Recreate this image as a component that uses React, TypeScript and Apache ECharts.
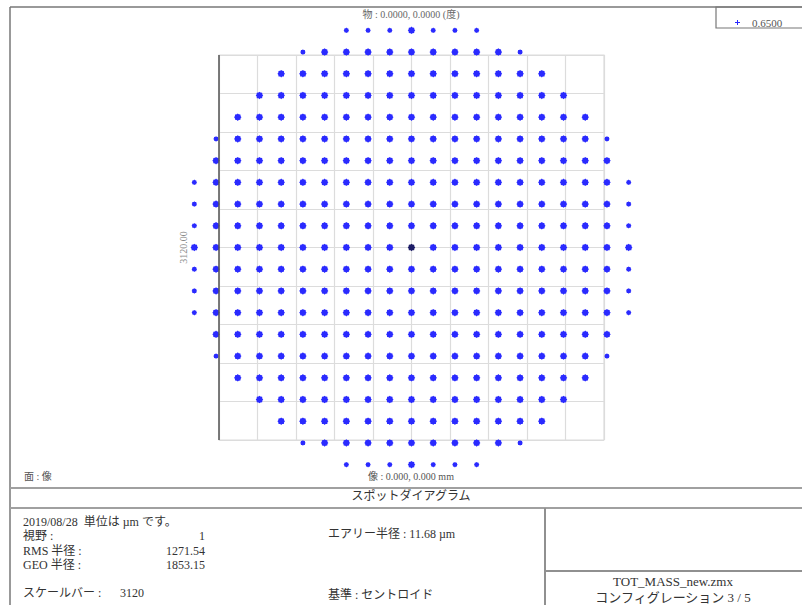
import React, { useEffect, useRef } from "react";
import * as echarts from "echarts";

// Spot diagram: ray grid at the image plane for a single field / single wavelength.
const WAVELENGTH = "0.6500";
const SPOT_PITCH_UM = 176; // spacing between neighbouring ray spots (µm)
// Pupil rows from top (+10) to bottom (-10) and how many spots each side of centre.
const PUPIL_ROWS = [10, 9, 8, 7, 6, 5, 4, 3, 2, 1, 0, -1, -2, -3, -4, -5, -6, -7, -8, -9, -10];
const ROW_HALF_WIDTHS = [3, 5, 6, 7, 8, 9, 9, 10, 10, 10, 10, 10, 10, 10, 9, 9, 8, 7, 6, 5, 3];

// Scale box (µm)
const SCALE_BAR_UM = 3120;
const GRID_DIVISIONS = 10;

// Report block
const DATE_LINE = "2019/08/28  単位は µm です。";
const STAT_LABELS = ["視野 :", "RMS 半径 :", "GEO 半径 :"];
const STAT_VALUES = ["1", "1271.54", "1853.15"];
const AIRY_LINE = "エアリー半径 : 11.68 µm";
const REFERENCE_LINE = "基準 : セントロイド";
const FILE_NAME = "TOT_MASS_new.zmx";
const CONFIG_LINE = "コンフィグレーション 3 / 5";
const TITLE = "スポットダイアグラム";
const OBJECT_LINE = "物 : 0.0000, 0.0000 (度)";
const IMAGE_LINE = "像 : 0.000, 0.000 mm";
const SURFACE_LINE = "面 : 像";

const FONT = "'Liberation Serif', 'Noto Sans CJK JP', serif";
const SPOT_COLOR = "#2a2aff";
const CENTER_COLOR = "#1c1c66";

// Ragged ray blob used for each spot
const SPOT_PATH =
  "path://M20,10 L17.8,12.4 L17.07,17.07 L12.6,17.6 L10,20 L7.4,17.6 L2.93,17.07 L2.2,12.4 L0,10 L2.2,7.6 L2.93,2.93 L7.4,2.2 L10,0 L12.6,2.2 L17.07,2.93 L17.8,7.6 Z";
const PLUS_PATH =
  "path://M4,0 L6,0 L6,4 L10,4 L10,6 L6,6 L6,10 L4,10 L4,6 L0,6 L0,4 L4,4 Z";

function buildSpots() {
  const pts: any[] = [];
  PUPIL_ROWS.forEach((j, r) => {
    const h = ROW_HALF_WIDTHS[r];
    for (let i = -h; i <= h; i++) {
      const rr = i * i + j * j;
      const item: any = {
        value: [i * SPOT_PITCH_UM, j * SPOT_PITCH_UM],
        symbolSize: rr > 100 ? 5.5 : 7.5,
      };
      if (i === 0 && j === 0) item.itemStyle = { color: CENTER_COLOR, opacity: 1 };
      pts.push(item);
    }
  });
  return pts;
}

function text(x: number, y: number, t: string, opts: any = {}) {
  return {
    type: "text",
    x,
    y,
    silent: true,
    style: {
      text: t,
      fill: opts.fill || "#333",
      fontSize: opts.size || 12,
      fontFamily: FONT,
      align: opts.align || "left",
      verticalAlign: "middle",
    },
  };
}

function line(x1: number, y1: number, x2: number, y2: number, stroke = "#8a8a8a", w = 1.5) {
  return {
    type: "line",
    silent: true,
    shape: { x1, y1, x2, y2 },
    style: { stroke, lineWidth: w },
  };
}

export default function App() {
  const ref = useRef<HTMLDivElement>(null);

  useEffect(() => {
    document.body.style.margin = "0";
    if (!ref.current) return;
    const chart = echarts.init(ref.current, null, { renderer: "svg" });
    const half = SCALE_BAR_UM / 2;
    const step = SCALE_BAR_UM / GRID_DIVISIONS;
    const cap = 32;

    const axisCommon = {
      type: "value",
      min: -half,
      max: half,
      interval: step,
      axisLine: { show: false },
      axisTick: { show: false },
      axisLabel: { show: false },
      splitLine: { show: true, lineStyle: { color: "#dcdcdc", width: 1.2 } },
    };

    const graphic: any[] = [
      // page frame
      line(10, 7, 802, 7, "#777", 1.5),
      line(10, 7, 10, 605, "#777", 1.5),
      // legend box
      { type: "rect", silent: true, shape: { x: 716, y: 7, width: 100, height: 21 }, style: { fill: "none", stroke: "#777", lineWidth: 1.2 } },
      // separators
      line(10, 488, 802, 488, "#a0a0a0", 2),
      line(10, 508, 802, 508, "#a0a0a0", 2),
      line(545, 508, 545, 605, "#909090", 2),
      line(545, 571, 802, 571, "#909090", 2),
      text(411, 14, OBJECT_LINE, { align: "center", size: 10, fill: "#666" }),
      text(24, 476, SURFACE_LINE, { size: 10, fill: "#555" }),
      text(411, 476, IMAGE_LINE, { align: "center", size: 10, fill: "#555" }),
      text(411, 496, TITLE, { align: "center", size: 12 }),
      text(23, 522, DATE_LINE),
      text(23, 593, "スケールバー :"),
      text(120, 593, String(SCALE_BAR_UM)),
      text(328, 534, AIRY_LINE),
      text(328, 595, REFERENCE_LINE),
      text(673, 581, FILE_NAME, { align: "center", size: 13 }),
      text(673, 597, CONFIG_LINE, { align: "center", size: 13 }),
    ];
    STAT_LABELS.forEach((lab, k) => {
      const y = 536 + k * 14.5;
      graphic.push(text(23, y, lab));
      graphic.push(text(205, y, STAT_VALUES[k], { align: "right" }));
    });

    chart.setOption({
      animation: false,
      backgroundColor: "#fff",
      grid: {
        left: 219,
        top: 55,
        width: 385,
        height: 385,
        show: true,
        borderColor: "#dcdcdc",
        borderWidth: 1.2,
      },
      legend: {
        left: 730,
        top: 12,
        itemWidth: 5,
        itemHeight: 5,
        data: [{ name: WAVELENGTH, icon: PLUS_PATH }],
        textStyle: { fontSize: 11, color: "#555", fontFamily: FONT, padding: [0, 0, 0, 7] },
        selectedMode: false,
      },
      xAxis: axisCommon,
      yAxis: {
        ...axisCommon,
        name: SCALE_BAR_UM.toFixed(2),
        nameLocation: "middle",
        nameGap: 31,
        nameRotate: 90,
        nameTextStyle: { fontSize: 10, color: "#888", fontFamily: FONT },
      },
      series: [
        {
          name: WAVELENGTH,
          type: "scatter",
          clip: false,
          symbol: SPOT_PATH,
          itemStyle: { color: SPOT_COLOR, opacity: 1 },
          data: buildSpots(),
          markLine: {
            silent: true,
            symbol: ["none", "none"],
            label: { show: false },
            lineStyle: { color: "#555", width: 1.5, type: "solid" },
            data: [
              [{ coord: [-half, -half] }, { coord: [-half, half] }],
              [{ coord: [-half - cap, half] }, { coord: [-half + cap, half] }],
              [{ coord: [-half - cap, -half] }, { coord: [-half + cap, -half] }],
            ],
          },
        },
      ],
      graphic,
    });
    return () => chart.dispose();
  }, []);

  return (
    <div
      ref={ref}
      style={{ position: "fixed", left: 0, top: 0, width: 802, height: 605 }}
    />
  );
}
